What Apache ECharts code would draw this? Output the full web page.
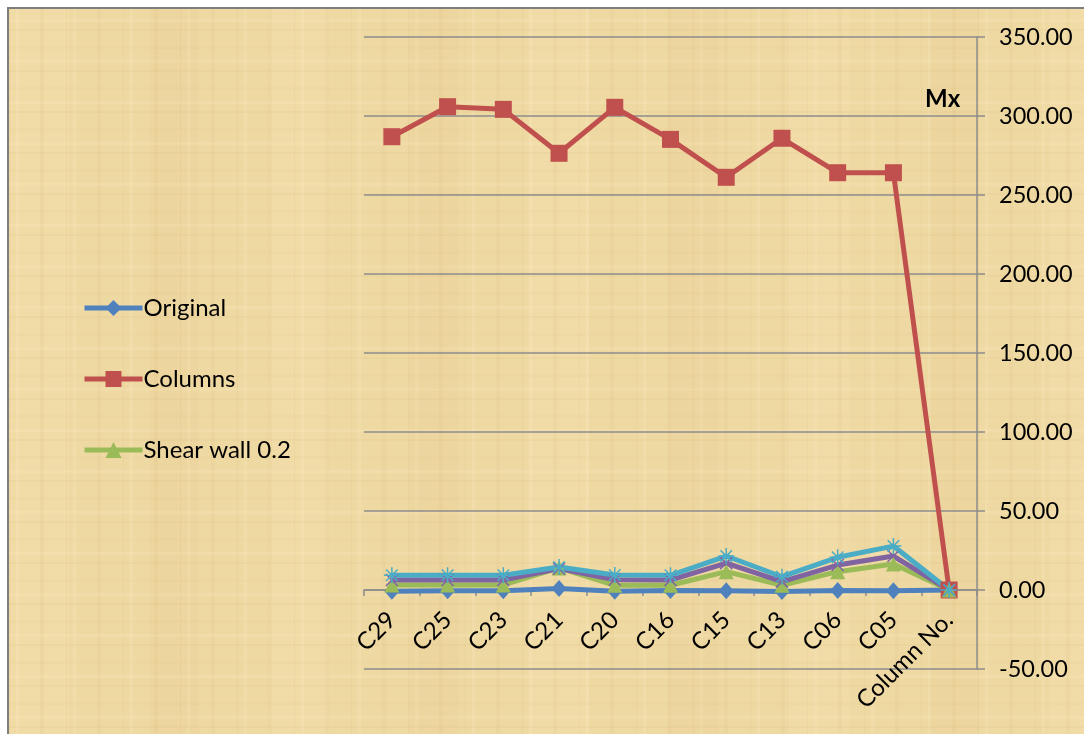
<!DOCTYPE html>
<html>
<head>
<meta charset="utf-8">
<style>
  html, body { margin: 0; padding: 0; background: #ffffff; overflow: hidden; }
  #paper {
    position: absolute; left: 7px; top: 7px; width: 1100px; height: 760px;
    border-left: 2px solid #7f7f7f; border-top: 2px solid #7f7f7f;
    background-color: #EFD9A3;
    background-image:
      repeating-linear-gradient(0deg, rgba(196,158,86,0.08) 0 2px, transparent 2px 9px, rgba(255,242,205,0.14) 9px 12px, transparent 12px 23px, rgba(205,170,100,0.06) 23px 26px, transparent 26px 41px),
      repeating-linear-gradient(90deg, rgba(190,150,80,0.09) 0 1px, transparent 1px 7px, rgba(255,245,212,0.14) 7px 10px, transparent 10px 31px, rgba(200,160,90,0.08) 31px 35px, transparent 35px 57px),
      repeating-linear-gradient(90deg, rgba(255,240,200,0.10) 0 60px, transparent 60px 140px, rgba(210,175,105,0.08) 140px 190px, transparent 190px 260px);
  }
  #chart { position: absolute; left: 0; top: 0; width: 1084px; height: 734px; }
</style>
<script src="https://cdn.jsdelivr.net/npm/echarts@6/dist/echarts.min.js"></script>
</head>
<body>
<div id="paper"></div>
<div id="chart"></div>
<script>
// Column moments Mx per column line
const categories = ['C29', 'C25', 'C23', 'C21', 'C20', 'C16', 'C15', 'C13', 'C06', 'C05', 'Column No.'];
const original   = [-0.8, -0.5, -0.5, 1.0, -0.8, -0.3, -0.5, -1.0, -0.3, -0.5, 0];
const columns    = [286.9, 305.9, 304.2, 276.4, 305.5, 285.2, 261.2, 285.9, 264.1, 264.1, 0];
const shearWall02 = [3.2, 3.2, 3.2, 14.0, 3.0, 3.0, 11.6, 3.0, 11.6, 16.5, 0];
const shearWall03 = [6.3, 6.3, 6.3, 13.5, 6.5, 6.3, 17.0, 5.3, 15.8, 21.5, 0];
const shearWall04 = [9.3, 9.3, 9.3, 14.5, 9.5, 9.3, 21.5, 8.4, 20.7, 27.8, 0];
const yTicks = { min: -50, max: 350, interval: 50 };

const FONT = 'Lato, "Open Sans", sans-serif';
const crossPath = 'path://M0,0L10,10M10,0L0,10';
const starPath = 'path://M0,5L10,5M5,0L5,10M1.4,1.4L8.6,8.6M8.6,1.4L1.4,8.6';

// plot box
const GRID = { left: 364, right: 107, top: 37, bottom: 65 };
const plotHeight = 734 - GRID.top - GRID.bottom;
// the category axis sits on the zero line, labels included
const zeroOffset = -Math.round((0 - yTicks.min) / (yTicks.max - yTicks.min) * plotHeight);

function lineSeries(name, data, color, symbol, size, extra) {
  return Object.assign({
    name: name,
    type: 'line',
    data: data,
    symbol: symbol,
    symbolSize: size,
    color: color,
    lineStyle: { color: color, width: 5 },
    itemStyle: { color: color },
    animation: false
  }, extra || {});
}

const chart = echarts.init(document.getElementById('chart'), null, { renderer: 'canvas' });
chart.setOption({
  backgroundColor: 'transparent',
  textStyle: { fontFamily: FONT },
  title: {
    text: 'Mx',
    left: 920, top: 82,
    textStyle: { fontFamily: FONT, fontSize: 24, fontWeight: 'bold', color: '#000' }
  },
  legend: {
    data: ['Original', 'Columns', 'Shear wall 0.2'],
    orient: 'vertical',
    left: 82, top: 296,
    padding: 0,
    itemWidth: 58, itemHeight: 20,
    itemGap: 47,
    lineStyle: { width: 5 },
    textStyle: { fontFamily: FONT, fontSize: 24, color: '#000', padding: [0, 0, 0, -4] }
  },
  grid: Object.assign({ containLabel: false, outerBoundsMode: 'none' }, GRID),
  xAxis: {
    type: 'category',
    data: categories,
    boundaryGap: true,
    position: 'bottom',
    offset: zeroOffset,
    axisLine: { onZero: false, lineStyle: { color: '#8c8c8c', width: 1.5 } },
    axisTick: { show: true, length: 6, lineStyle: { color: '#8c8c8c', width: 1.5 } },
    axisLabel: { rotate: 45, margin: 26, fontFamily: FONT, fontSize: 24, color: '#000', interval: 0 },
    splitLine: { show: false }
  },
  yAxis: {
    type: 'value',
    position: 'right',
    min: yTicks.min, max: yTicks.max, interval: yTicks.interval,
    axisLine: { show: true, lineStyle: { color: '#8c8c8c', width: 1.5 } },
    axisTick: { show: true, length: 8, lineStyle: { color: '#8c8c8c', width: 1.5 } },
    axisLabel: {
      margin: 22, fontFamily: FONT, fontSize: 23.5, color: '#000',
      formatter: v => v.toFixed(2)
    },
    splitLine: { show: true, lineStyle: { color: '#8c8c8c', width: 1.5 } }
  },
  series: [
    lineSeries('Original', original, '#4F81BD', 'diamond', [15, 17]),
    lineSeries('Columns', columns, '#C0504D', 'rect', 17),
    lineSeries('Shear wall 0.2', shearWall02, '#9BBB59', 'triangle', 15),
    lineSeries('Shear wall 0.3', shearWall03, '#8064A2', crossPath, 12,
      { itemStyle: { color: '#8064A2', borderColor: '#8064A2', borderWidth: 1.5 } }),
    lineSeries('Shear wall 0.4', shearWall04, '#4BACC6', starPath, 16,
      { itemStyle: { color: '#4BACC6', borderColor: '#4BACC6', borderWidth: 1.5 } })
  ]
});
</script>
</body>
</html>
